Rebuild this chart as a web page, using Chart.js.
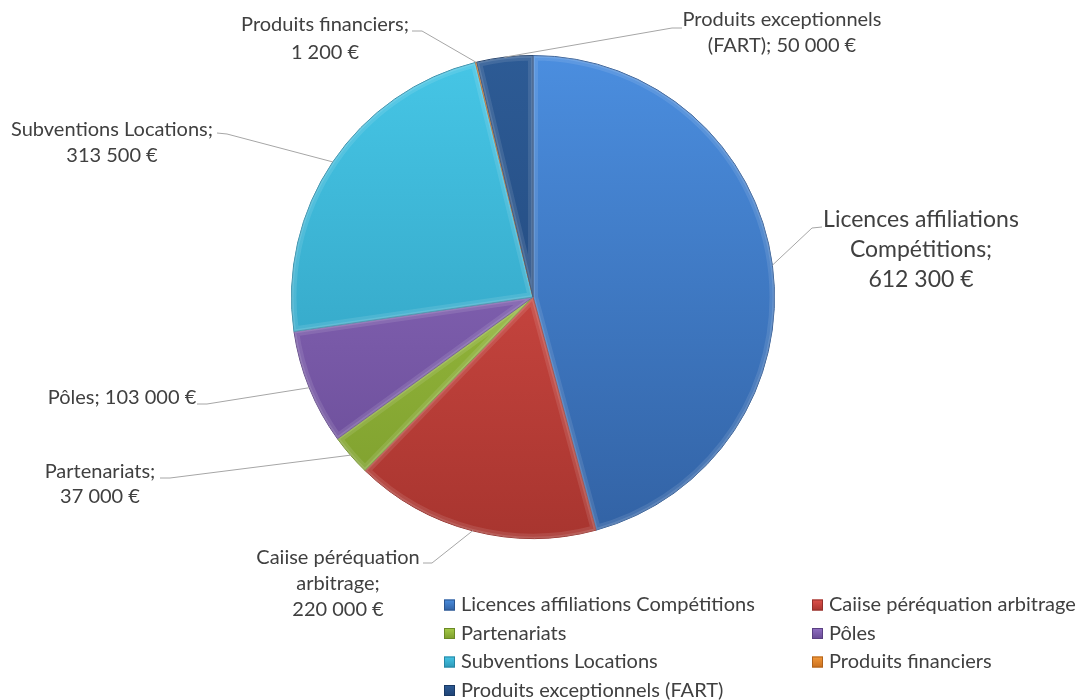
<!DOCTYPE html>
<html>
<head>
<meta charset="utf-8">
<script src="https://cdn.jsdelivr.net/npm/chart.js@4.4.1/dist/chart.umd.min.js"></script>
<style>
    body { margin: 0; background: #ffffff; }
    #wrap { width: 1078px; height: 700px; position: relative; }
</style>
</head>
<body>
<div id="wrap"><canvas id="chart"></canvas></div>
<script>
const categories = [
    'Licences affiliations Compétitions',
    'Caiise péréquation arbitrage',
    'Partenariats',
    'Pôles',
    'Subventions Locations',
    'Produits financiers',
    'Produits exceptionnels (FART)'
];
const amounts = [612300, 220000, 37000, 103000, 313500, 1200, 50000];
// label text as it is wrapped on the picture
const labelLines = [
    ['Licences affiliations', 'Compétitions;', '612 300 €'],
    ['Caiise péréquation', 'arbitrage;', '220 000 €'],
    ['Partenariats;', '37 000 €'],
    ['Pôles; 103 000 €'],
    ['Subventions Locations;', '313 500 €'],
    ['Produits financiers;', '1 200 €'],
    ['Produits exceptionnels', '(FART); 50 000 €']
];

// light (top) / dark (bottom) tones of each slice
const lightTones = ['#4b8edf', '#e0524c', '#a6cc48', '#9270c4', '#46c6e6', '#f59a3a', '#2d5b95'];
const darkTones  = ['#3262a4', '#a8352f', '#7c9c2c', '#674a94', '#2d98b8', '#c96f1e', '#1e4274'];
const edgeTones  = ['#2c5690', '#94302b', '#6b8a26', '#5a4082', '#2886a3', '#b0621b', '#1a3964'];

// where each label sits: center x, first line center y, line step, font size, leader end, elbow
const labelSpots = [
    { x: 921, y: 220, step: 30, size: 23, end: [822, 227], elbow: [812, 228] },
    { x: 338, y: 558, step: 26, size: 20, end: [423, 563], elbow: [432, 563] },
    { x: 100, y: 472, step: 25, size: 20, end: [160, 478], elbow: [170, 478] },
    { x: 122, y: 398, step: 25, size: 20, end: [197, 404], elbow: [207, 404] },
    { x: 112, y: 130, step: 26, size: 20, end: [217, 133], elbow: [227, 134] },
    { x: 325, y: 25, step: 28, size: 20, end: [412, 31], elbow: [422, 31] },
    { x: 782, y: 20, step: 26, size: 20, end: [682, 28], elbow: [672, 28] }
];

const FONT = 'Lato, "Open Sans", sans-serif';
const TEXT = '#404040';

function sliceFill (context) {
    const chart = context.chart;
    const area = chart.chartArea;
    if (!area) return lightTones[context.dataIndex];
    const g = chart.ctx.createLinearGradient(0, area.top, 0, area.bottom);
    g.addColorStop(0, lightTones[context.dataIndex]);
    g.addColorStop(1, darkTones[context.dataIndex]);
    return g;
}

const bevelPlugin = {
    id: 'bevel',
    afterDatasetsDraw (chart) {
        const ctx = chart.ctx;
        chart.getDatasetMeta(0).data.forEach((arc) => {
            const p = arc.getProps(['x', 'y', 'startAngle', 'endAngle', 'outerRadius']);
            ctx.save();
            ctx.beginPath();
            ctx.moveTo(p.x, p.y);
            ctx.arc(p.x, p.y, p.outerRadius, p.startAngle, p.endAngle);
            ctx.closePath();
            ctx.clip();
            ctx.lineJoin = 'round';
            ctx.lineWidth = 10;
            ctx.strokeStyle = 'rgba(255,255,255,0.10)';
            ctx.stroke();
            ctx.lineWidth = 4;
            ctx.strokeStyle = 'rgba(255,255,255,0.12)';
            ctx.stroke();
            ctx.restore();
        });
    }
};

const labelPlugin = {
    id: 'outsideLabels',
    afterDraw (chart) {
        const ctx = chart.ctx;
        const arcs = chart.getDatasetMeta(0).data;
        ctx.save();
        // leader lines
        ctx.strokeStyle = '#a6a6a6';
        ctx.lineWidth = 1;
        arcs.forEach((arc, i) => {
            const p = arc.getProps(['x', 'y', 'startAngle', 'endAngle', 'outerRadius']);
            const mid = (p.startAngle + p.endAngle) / 2;
            const sx = p.x + Math.cos(mid) * p.outerRadius;
            const sy = p.y + Math.sin(mid) * p.outerRadius;
            const spot = labelSpots[i];
            ctx.beginPath();
            ctx.moveTo(sx, sy);
            ctx.lineTo(spot.elbow[0], spot.elbow[1]);
            ctx.lineTo(spot.end[0], spot.end[1]);
            ctx.stroke();
        });
        // label texts
        ctx.fillStyle = TEXT;
        ctx.textAlign = 'center';
        ctx.textBaseline = 'middle';
        labelLines.forEach((lines, i) => {
            const spot = labelSpots[i];
            ctx.font = spot.size + 'px ' + FONT;
            lines.forEach((line, k) => {
                ctx.fillText(line, spot.x, spot.y + k * spot.step);
            });
        });
        // legend, two columns
        ctx.textAlign = 'left';
        ctx.font = '20px ' + FONT;
        const colX = [444, 812];
        const rowY = [605, 633.5, 662, 690.5];
        categories.forEach((name, i) => {
            const mx = colX[i % 2];
            const my = rowY[Math.floor(i / 2)];
            const g = ctx.createLinearGradient(0, my - 5.5, 0, my + 5.5);
            g.addColorStop(0, lightTones[i]);
            g.addColorStop(1, darkTones[i]);
            ctx.fillStyle = g;
            ctx.fillRect(mx, my - 5.5, 11, 11);
            ctx.strokeStyle = edgeTones[i];
            ctx.strokeRect(mx + 0.5, my - 5, 10, 10);
            ctx.fillStyle = TEXT;
            ctx.fillText(name, mx + 17, my);
        });
        ctx.restore();
    }
};

new Chart(document.getElementById('chart'), {
    type: 'pie',
    data: {
        labels: categories,
        datasets: [{
            data: amounts,
            backgroundColor: sliceFill,
            borderColor: edgeTones,
            borderWidth: 1
        }]
    },
    options: {
        responsive: true,
        maintainAspectRatio: false,
        animation: false,
        layout: { padding: { left: 291, right: 303, top: 55, bottom: 161 } },
        plugins: {
            legend: { display: false },
            tooltip: { enabled: false }
        }
    },
    plugins: [bevelPlugin, labelPlugin]
});
</script>
</body>
</html>
